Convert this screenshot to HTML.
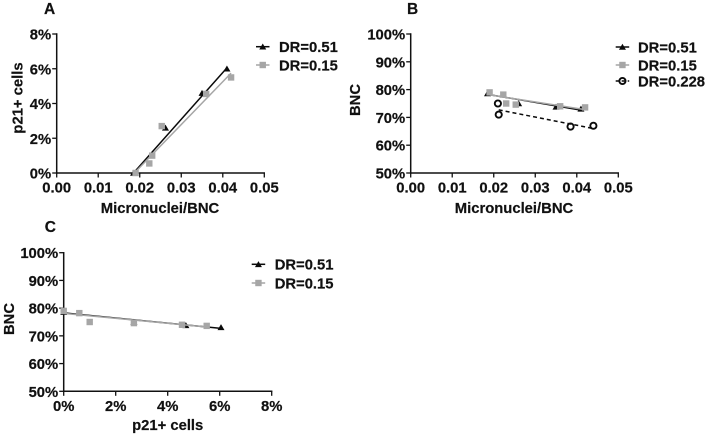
<!DOCTYPE html>
<html lang="en">
<head>
<meta charset="utf-8">
<title>DR charts</title>
<style>
html,body{margin:0;padding:0;background:#fff;width:708px;height:437px;overflow:hidden}
svg{display:block;filter:blur(0.35px)}
text{font-family:"Liberation Sans",Arial,sans-serif;font-weight:700;font-size:14.8px;fill:#111;stroke:#111;stroke-width:0.2px}
</style>
</head>
<body>
<svg id="figure" xmlns="http://www.w3.org/2000/svg" width="708" height="437" viewBox="0 0 708 437"></svg>
<script>
// Tick labels
const fractionTicks = [0, 0.01, 0.02, 0.03, 0.04, 0.05];
const percentTicksA = [0, 2, 4, 6, 8];
const bncTicks = [50, 60, 70, 80, 90, 100];

// Panel A: micronuclei/BNC vs p21+ cells
const aHighX = [0.0185, 0.0262, 0.035, 0.041];
const aHighY = [0, 2.6, 4.6, 6.0];
const aHighFitX = [0.0185, 0.041];
const aHighFitY = [0, 6.05];
const aLowX = [0.019, 0.0223, 0.023, 0.0253, 0.036, 0.042];
const aLowY = [0, 0.55, 1.0, 2.7, 4.55, 5.5];
const aLowFitX = [0.0187, 0.042];
const aLowFitY = [0, 5.75];

// Panel B: micronuclei/BNC vs BNC
const bHighX = [0.0185, 0.026, 0.035, 0.041];
const bHighY = [78.6, 75, 73.8, 73.1];
const bHighFitX = [0.0185, 0.041];
const bHighFitY = [78.3, 72.6];
const bLowX = [0.019, 0.0223, 0.023, 0.0253, 0.036, 0.042];
const bLowY = [79, 78.2, 75, 74.6, 74, 73.6];
const bLowFitX = [0.019, 0.042];
const bLowFitY = [78.1, 72.8];
const bMidX = [0.021, 0.0212, 0.0385, 0.044];
const bMidY = [75, 71, 66.7, 67];
const bMidFitX = [0.0212, 0.044];
const bMidFitY = [72.7, 66];

// Panel C: p21+ cells vs BNC
const cHighX = [0, 2.7, 4.7, 6.05];
const cHighY = [78.6, 75, 73.8, 73.1];
const cHighFitX = [0, 6.05];
const cHighFitY = [78.3, 72.7];
const cLowX = [0, 0.6, 1.0, 2.7, 4.55, 5.5];
const cLowY = [79, 78.2, 75, 74.6, 74, 73.6];
const cLowFitX = [0, 5.6];
const cLowFitY = [78.1, 73.1];

const legendLabelHigh = 'DR=0.51';
const legendLabelLow = 'DR=0.15';
const legendLabelMid = 'DR=0.228';

const NS = 'http://www.w3.org/2000/svg';
const root = document.getElementById('figure');
const BLACK = '#0a0a0a';
const GREY = '#a6a6a6';

function make(tag, attrs, parent) {
  const el = document.createElementNS(NS, tag);
  for (const k in attrs) el.setAttribute(k, attrs[k]);
  parent.appendChild(el);
  return el;
}
function label(parent, str, x, y, anchor, name, rotate) {
  const t = make('text', {x: x, y: y, 'text-anchor': anchor}, parent);
  if (rotate) t.setAttribute('transform', 'rotate(-90 ' + x + ' ' + y + ')');
  t.textContent = str;
  
  
  return t;
}
function marker(parent, kind, cx, cy, name) {
  let m;
  if (kind === 'triangle') {
    m = make('polygon', {points: (cx - 3.5) + ',' + (cy + 2.8) + ' ' + (cx + 3.5) + ',' + (cy + 2.8) + ' ' + cx + ',' + (cy - 3.2),
      fill: BLACK}, parent);
  } else if (kind === 'square') {
    m = make('rect', {x: cx - 3.2, y: cy - 3.2, width: 6.4, height: 6.4, fill: GREY}, parent);
  } else {
    m = make('circle', {cx: cx, cy: cy, r: 3.1, fill: 'none', stroke: BLACK, 'stroke-width': 1.9}, parent);
  }
  
  
}
function series(parent, s, xs, ys) {
  const g = make('g', {}, parent);
  
  
  const fit = make('line', {x1: xs(s.fitX[0]), y1: ys(s.fitY[0]), x2: xs(s.fitX[1]), y2: ys(s.fitY[1]),
    stroke: s.color, 'stroke-width': 1.5}, g);
  if (s.dash) fit.setAttribute('stroke-dasharray', '4 3');
  
  
  s.x.forEach(function (v, i) {
    marker(g, s.kind, xs(v), ys(s.y[i]), 'point-' + s.id);
  });
}
function panel(p) {
  const g = make('g', {}, root);
  
  

  const xDomain = p.xTicks[p.xTicks.length - 1] - p.xTicks[0];
  const yDomain = p.yTicks[p.yTicks.length - 1] - p.yTicks[0];
  const xs = function (v) { return p.left + (v - p.xTicks[0]) / xDomain * (p.right - p.left); };
  const ys = function (v) { return p.bottom - (v - p.yTicks[0]) / yDomain * (p.bottom - p.top); };

  const title = label(g, p.id, p.titleX, p.titleY, 'start', 'panel-label');
  title.style.fontSize = '15.5px';

  const xAxis = make('line', {x1: p.left - 0.7, y1: p.bottom, x2: p.right + 0.7, y2: p.bottom, stroke: '#111', 'stroke-width': 1.5}, g);
  
  
  const yAxis = make('line', {x1: p.left, y1: p.top - 0.7, x2: p.left, y2: p.bottom + 0.7, stroke: '#111', 'stroke-width': 1.5}, g);
  
  

  p.xTicks.forEach(function (v) {
    const tick = make('line', {x1: xs(v), y1: p.bottom, x2: xs(v), y2: p.bottom + 4.5, stroke: '#111', 'stroke-width': 1.3}, g);
    
    
    label(g, p.xFormat(v), xs(v), p.xLabelY, 'middle', 'x-tick-label');
  });
  p.yTicks.forEach(function (v) {
    const tick = make('line', {x1: p.left - 4.5, y1: ys(v), x2: p.left, y2: ys(v), stroke: '#111', 'stroke-width': 1.3}, g);
    
    
    label(g, v + '%', p.left - 5.5, ys(v) + 5.5, 'end', 'y-tick-label');
  });

  label(g, p.xTitle, p.xTitleX, p.xTitleY, 'middle', 'x-axis-title');
  label(g, p.yTitle, p.yTitleX, p.yTitleY, 'middle', 'y-axis-title', true);

  p.series.forEach(function (s) { series(g, s, xs, ys); });

  p.series.forEach(function (s, i) {
    const e = make('g', {}, g);
    
    
    const ly = p.legendY[i];
    const sw = make('line', {x1: p.legendX, y1: ly, x2: p.legendX + 13.5, y2: ly, stroke: s.color, 'stroke-width': 1.5}, e);
    if (s.dash) sw.setAttribute('stroke-dasharray', '4 2');
    
    
    marker(e, s.kind, p.legendX + 6.75, ly, 'legend-marker');
    label(e, s.label, p.legendTextX, ly + 5.3, 'start', 'legend-label');
  });
}

const fixed2 = function (v) { return v.toFixed(2); };
const pct = function (v) { return v + '%'; };

panel({
  id: 'A', titleX: 44, titleY: 14,
  left: 56.7, right: 264.3, top: 34, bottom: 173,
  xTicks: fractionTicks, yTicks: percentTicksA, xFormat: fixed2, xLabelY: 192.5,
  xTitle: 'Micronuclei/BNC', xTitleX: 160, xTitleY: 213,
  yTitle: 'p21+ cells', yTitleX: 22.5, yTitleY: 98,
  legendX: 256, legendTextX: 279, legendY: [46.7, 65],
  series: [
    {id: 'dr-051', label: legendLabelHigh, kind: 'triangle', color: BLACK, x: aHighX, y: aHighY, fitX: aHighFitX, fitY: aHighFitY},
    {id: 'dr-015', label: legendLabelLow, kind: 'square', color: GREY, x: aLowX, y: aLowY, fitX: aLowFitX, fitY: aLowFitY}
  ]
});

panel({
  id: 'B', titleX: 407, titleY: 14,
  left: 410.7, right: 618.3, top: 34, bottom: 173,
  xTicks: fractionTicks, yTicks: bncTicks, xFormat: fixed2, xLabelY: 192.5,
  xTitle: 'Micronuclei/BNC', xTitleX: 514, xTitleY: 213,
  yTitle: 'BNC', yTitleX: 360, yTitleY: 100,
  legendX: 615.7, legendTextX: 638, legendY: [47, 65, 81],
  series: [
    {id: 'dr-051', label: legendLabelHigh, kind: 'triangle', color: BLACK, x: bHighX, y: bHighY, fitX: bHighFitX, fitY: bHighFitY},
    {id: 'dr-015', label: legendLabelLow, kind: 'square', color: GREY, x: bLowX, y: bLowY, fitX: bLowFitX, fitY: bLowFitY},
    {id: 'dr-0228', label: legendLabelMid, kind: 'circle', color: BLACK, dash: true, x: bMidX, y: bMidY, fitX: bMidFitX, fitY: bMidFitY}
  ]
});

panel({
  id: 'C', titleX: 44.7, titleY: 232,
  left: 63.7, right: 271.7, top: 252.7, bottom: 391.3,
  xTicks: percentTicksA, yTicks: bncTicks, xFormat: pct, xLabelY: 411,
  xTitle: 'p21+ cells', xTitleX: 167.7, xTitleY: 430,
  yTitle: 'BNC', yTitleX: 14, yTitleY: 319,
  legendX: 251.7, legendTextX: 274.7, legendY: [264.3, 283],
  series: [
    {id: 'dr-051', label: legendLabelHigh, kind: 'triangle', color: BLACK, x: cHighX, y: cHighY, fitX: cHighFitX, fitY: cHighFitY},
    {id: 'dr-015', label: legendLabelLow, kind: 'square', color: GREY, x: cLowX, y: cLowY, fitX: cLowFitX, fitY: cLowFitY}
  ]
});
</script>
</body>
</html>
